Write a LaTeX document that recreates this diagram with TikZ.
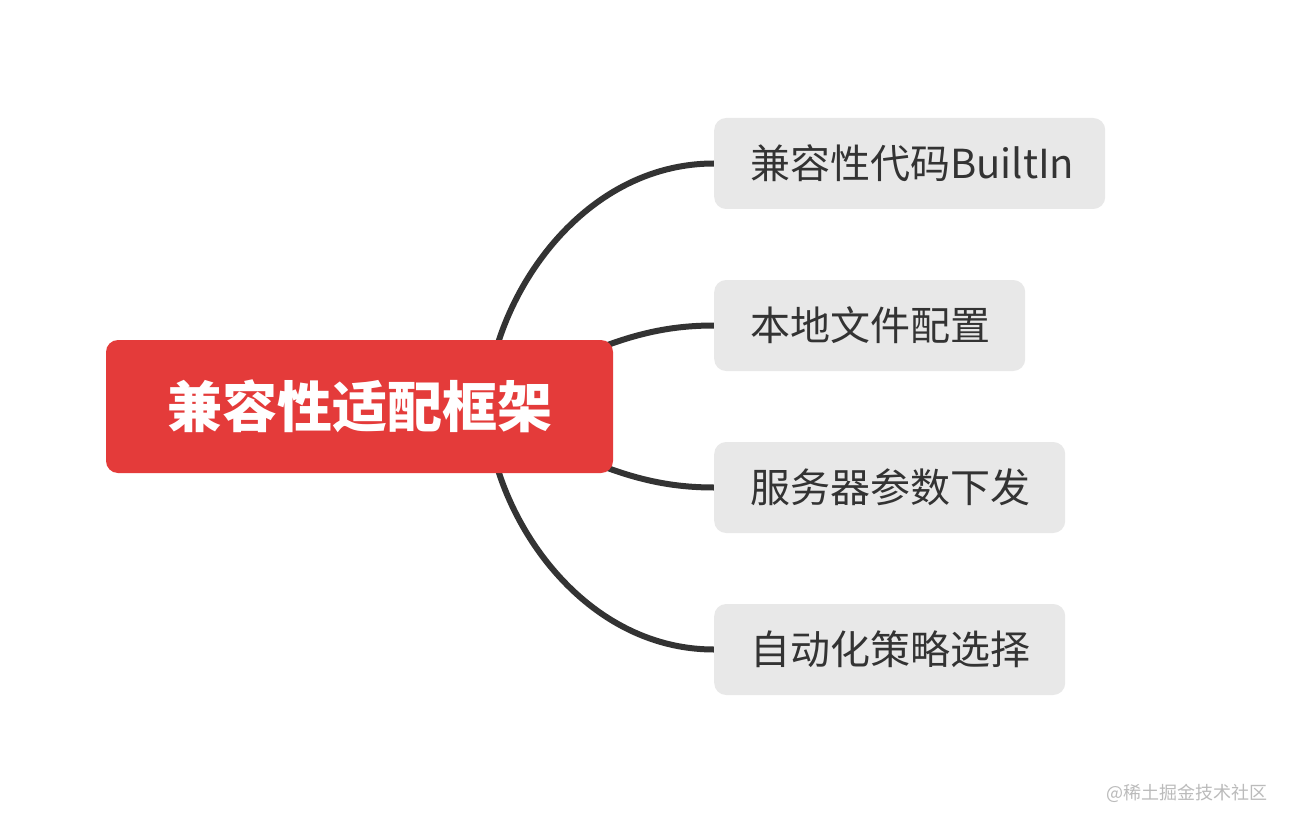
\documentclass[tikz,border=0pt]{standalone}
\usepackage{fontspec}
\newfontfamily\cjk{Noto Sans CJK SC}
\usetikzlibrary{backgrounds}
\definecolor{rootred}{HTML}{E43B3A}
\definecolor{childgray}{HTML}{E8E8E8}
\definecolor{txt}{HTML}{333333}
\definecolor{linec}{HTML}{333333}
\definecolor{wm}{HTML}{BBBBBB}
\tikzset{
  rootbox/.style={fill=rootred, rounded corners=12pt, minimum width=507pt, minimum height=133pt, inner sep=0pt, text=white, font=\cjk\bfseries\fontsize{55}{60}\selectfont},
  childbox/.style={fill=childgray, rounded corners=12pt, anchor=west, minimum height=91pt, inner xsep=36pt, inner ysep=0pt, align=left, text=txt, font=\cjk\fontsize{40}{46}\selectfont},
  conn/.style={draw=linec, line width=6pt},
  wmark/.style={text=wm, font=\cjk\fontsize{18}{20}\selectfont, anchor=east, inner sep=0pt}
}
\begin{document}
\begin{tikzpicture}[x=1pt,y=-1pt]
\useasboundingbox (0,0) rectangle (1292,826);
\node[rootbox] (root) at (359.5,406.5) {兼容性适配框架};
\node[childbox, text width=319pt] (c1) at (714,163.5) {兼容性代码BuiltIn};
\node[childbox, text width=239pt] (c2) at (714,325.5) {本地文件配置};
\node[childbox, text width=279pt] (c3) at (714,487.5) {服务器参数下发};
\node[childbox, text width=279pt] (c4) at (714,649.5) {自动化策略选择};
\coordinate (hubo) at ([xshift=127pt]root.center);
\coordinate (hubi) at ([xshift=120pt]root.center);
\begin{pgfonlayer}{background}
\fill[white] (0,0) rectangle (1292,826);
\draw[conn] (hubo) .. controls +(4,-106) and +(-134,0) .. (c1.west);
\draw[conn] (hubi) .. controls +(110,-60) and +(-70,0) .. (c2.west);
\draw[conn] (hubi) .. controls +(110,60) and +(-70,0) .. (c3.west);
\draw[conn] (hubo) .. controls +(4,106) and +(-134,0) .. (c4.west);
\end{pgfonlayer}
\node[wmark] (wmk) at (1268,793) {@稀土掘金技术社区};
\end{tikzpicture}
\end{document}
